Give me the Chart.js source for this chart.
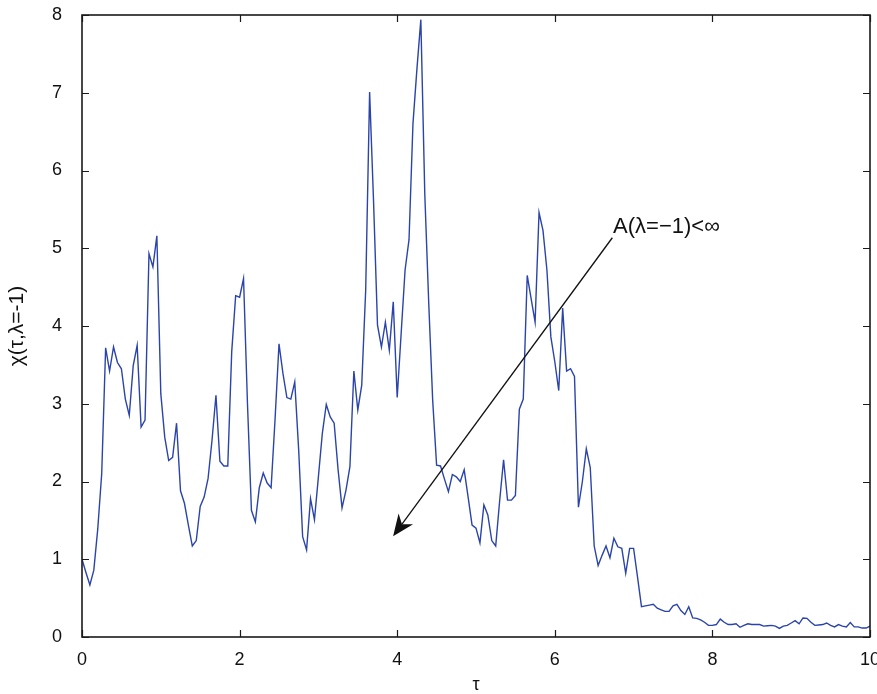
<!DOCTYPE html>
<html>
<head>
<meta charset="utf-8">
<script src="https://cdn.jsdelivr.net/npm/chart.js@4.4.1/dist/chart.umd.min.js"></script>
<style>
html,body{margin:0;padding:0;background:#fff;}
#wrap{width:877px;height:694px;position:relative;}
</style>
</head>
<body>
<div id="wrap"><canvas id="c"></canvas></div>
<script>
// tau values (x)
const tau = [0,0.05,0.1,0.15,0.2,0.25,0.3,0.35,0.4,0.45,0.5,0.55,0.6,0.65,0.7,0.75,0.8,0.85,0.9,0.95,
1,1.05,1.1,1.15,1.2,1.25,1.3,1.35,1.4,1.45,1.5,1.55,1.6,1.65,1.7,1.75,1.8,1.85,1.9,1.95,
2,2.05,2.1,2.15,2.2,2.25,2.3,2.35,2.4,2.45,2.5,2.55,2.6,2.65,2.7,2.75,2.8,2.85,2.9,2.95,
3,3.05,3.1,3.15,3.2,3.25,3.3,3.35,3.4,3.45,3.5,3.55,3.6,3.65,3.7,3.75,3.8,3.85,3.9,3.95,
4,4.05,4.1,4.15,4.2,4.25,4.3,4.35,4.4,4.45,4.5,4.55,4.6,4.65,4.7,4.75,4.8,4.85,4.9,4.95,
5,5.05,5.1,5.15,5.2,5.25,5.3,5.35,5.4,5.45,5.5,5.55,5.6,5.65,5.7,5.75,5.8,5.85,5.9,5.95,
6,6.05,6.1,6.15,6.2,6.25,6.3,6.35,6.4,6.45,6.5,6.55,6.6,6.65,6.7,6.75,6.8,6.85,6.9,6.95,
7,7.05,7.1,7.15,7.2,7.25,7.3,7.35,7.4,7.45,7.5,7.55,7.6,7.65,7.7,7.75,7.8,7.85,7.9,7.95,
8,8.05,8.1,8.15,8.2,8.25,8.3,8.35,8.4,8.45,8.5,8.55,8.6,8.65,8.7,8.75,8.8,8.85,8.9,8.95,
9,9.05,9.1,9.15,9.2,9.25,9.3,9.35,9.4,9.45,9.5,9.55,9.6,9.65,9.7,9.75,9.8,9.85,9.9,9.95,10];

// chi(tau, lambda=-1) values (y)
const chi = [1.00,0.83,0.67,0.86,1.39,2.10,3.72,3.42,3.73,3.53,3.45,3.06,2.85,3.49,3.75,2.70,2.79,4.93,4.76,5.16,
3.13,2.57,2.27,2.31,2.75,1.88,1.72,1.44,1.17,1.24,1.68,1.80,2.04,2.53,3.11,2.26,2.20,2.20,3.67,4.39,
4.37,4.61,3.00,1.63,1.48,1.92,2.11,1.98,1.92,2.80,3.77,3.39,3.08,3.06,3.28,2.40,1.29,1.12,1.78,1.51,
2.06,2.62,2.99,2.83,2.75,2.15,1.66,1.89,2.19,3.42,2.92,3.24,4.46,7.01,5.60,4.01,3.73,4.05,3.69,4.31,
3.08,3.90,4.72,5.11,6.60,7.30,7.94,5.70,4.30,3.05,2.21,2.20,2.03,1.87,2.09,2.06,2.00,2.15,1.80,1.44,
1.40,1.21,1.70,1.57,1.24,1.17,1.75,2.28,1.76,1.76,1.82,2.93,3.06,4.65,4.35,4.05,5.46,5.23,4.72,3.86,
3.54,3.17,4.23,3.42,3.45,3.35,1.67,2.00,2.42,2.18,1.17,0.92,1.05,1.17,1.02,1.27,1.16,1.14,0.82,1.14,
1.14,0.77,0.39,0.40,0.41,0.42,0.37,0.35,0.33,0.33,0.40,0.42,0.34,0.29,0.39,0.245,0.24,0.22,0.19,0.15,
0.15,0.16,0.23,0.19,0.16,0.16,0.17,0.125,0.15,0.17,0.16,0.16,0.16,0.14,0.145,0.15,0.14,0.11,0.14,0.15,
0.18,0.21,0.17,0.245,0.24,0.19,0.15,0.155,0.16,0.18,0.15,0.13,0.16,0.14,0.13,0.185,0.13,0.13,0.115,0.115,0.14];

const xTicks = [0,2,4,6,8,10];
const yTicks = [0,1,2,3,4,5,6,7,8];
const xTitle = 'τ';
const yTitle = 'χ(τ,λ=-1)';
const annText = 'A(λ=−1)<∞';
// annotation anchor points in data units
const arrowFrom = {x: 6.73, y: 5.135};
const arrowTo = {x: 3.948, y: 1.296};
const textAt = {x: 6.74, y: 5.19};

const FONT = '"Liberation Sans", Arial, Helvetica, sans-serif';

const frame = {
  id: 'frame',
  afterDraw(chart) {
    const ctx = chart.ctx, a = chart.chartArea;
    const xs = chart.scales.x, ys = chart.scales.y;
    ctx.save();
    ctx.strokeStyle = '#1a1a1a';
    ctx.lineWidth = 1.6;
    ctx.strokeRect(a.left, a.top, a.right - a.left, a.bottom - a.top);
    ctx.lineWidth = 1.2;
    const L = 7;
    ctx.beginPath();
    xTicks.forEach(v => {
      const px = Math.round(xs.getPixelForValue(v)) + 0.5;
      ctx.moveTo(px, a.bottom); ctx.lineTo(px, a.bottom - L);
      ctx.moveTo(px, a.top); ctx.lineTo(px, a.top + L);
    });
    yTicks.forEach(v => {
      const py = Math.round(ys.getPixelForValue(v)) + 0.5;
      ctx.moveTo(a.left, py); ctx.lineTo(a.left + L, py);
      ctx.moveTo(a.right, py); ctx.lineTo(a.right - L, py);
    });
    ctx.stroke();

    // annotation arrow
    const x0 = xs.getPixelForValue(arrowFrom.x), y0 = ys.getPixelForValue(arrowFrom.y);
    const x1 = xs.getPixelForValue(arrowTo.x), y1 = ys.getPixelForValue(arrowTo.y);
    const dx = x0 - x1, dy = y0 - y1, len = Math.hypot(dx, dy);
    const ux = dx / len, uy = dy / len, vx = -uy, vy = ux;
    const headL = 21.5, headW = 9, notch = 15;
    ctx.strokeStyle = '#111';
    ctx.fillStyle = '#111';
    ctx.lineWidth = 1.3;
    ctx.beginPath();
    ctx.moveTo(x0, y0);
    ctx.lineTo(x1 + ux * notch, y1 + uy * notch);
    ctx.stroke();
    ctx.beginPath();
    ctx.moveTo(x1, y1);
    ctx.lineTo(x1 + ux * headL + vx * headW, y1 + uy * headL + vy * headW);
    ctx.lineTo(x1 + ux * notch, y1 + uy * notch);
    ctx.lineTo(x1 + ux * headL - vx * headW, y1 + uy * headL - vy * headW);
    ctx.closePath();
    ctx.fill();

    ctx.font = '22px ' + FONT;
    ctx.textBaseline = 'alphabetic';
    ctx.textAlign = 'left';
    ctx.fillStyle = '#111';
    ctx.fillText(annText, xs.getPixelForValue(textAt.x), ys.getPixelForValue(textAt.y));
    ctx.restore();
  }
};

function zeroPad(s) { s.paddingTop = 0; s.paddingBottom = 0; s.paddingLeft = 0; s.paddingRight = 0; }

new Chart(document.getElementById('c'), {
  type: 'line',
  data: {
    datasets: [{
      data: tau.map((t, i) => ({x: t, y: chi[i]})),
      borderColor: '#2b44aa',
      borderWidth: 1.4,
      pointRadius: 0,
      tension: 0,
      fill: false
    }]
  },
  options: {
    responsive: true,
    maintainAspectRatio: false,
    animation: false,
    layout: {padding: {top: 15, right: 7, left: 0, bottom: 0}},
    plugins: {legend: {display: false}, tooltip: {enabled: false}},
    scales: {
      x: {
        type: 'linear', min: 0, max: 10,
        afterFit(s) { s.height = 57; zeroPad(s); },
        afterBuildTicks(s) { s.ticks = xTicks.map(v => ({value: v})); },
        grid: {display: false, drawTicks: false},
        border: {display: false},
        ticks: {color: '#111', font: {family: FONT, size: 18}, padding: 12, maxRotation: 0},
        title: {display: true, text: xTitle, color: '#111', font: {family: FONT, size: 18}, padding: {top: 0, bottom: -2}}
      },
      y: {
        type: 'linear', min: 0, max: 8,
        afterFit(s) { s.width = 82; zeroPad(s); },
        afterBuildTicks(s) { s.ticks = yTicks.map(v => ({value: v})); },
        grid: {display: false, drawTicks: false},
        border: {display: false},
        ticks: {color: '#111', font: {family: FONT, size: 18}, padding: 20},
        title: {display: true, text: yTitle, color: '#111', font: {family: FONT, size: 21}, padding: {top: 5, bottom: 0}}
      }
    }
  },
  plugins: [frame]
});
</script>
</body>
</html>
